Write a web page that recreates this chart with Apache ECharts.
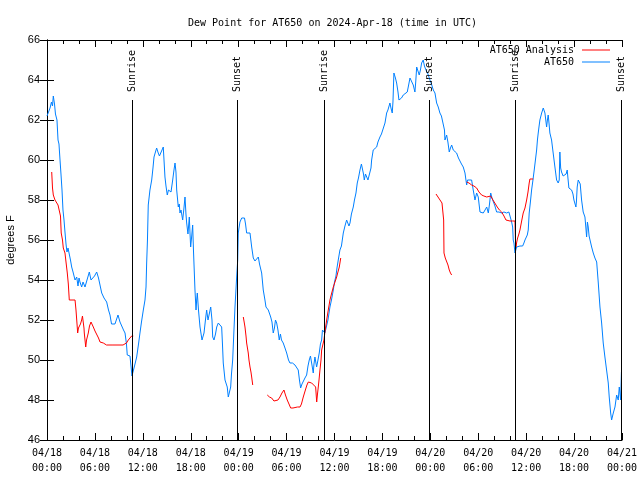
<!DOCTYPE html>
<html><head><meta charset="utf-8">
<script src="https://cdn.jsdelivr.net/npm/echarts@6/dist/echarts.min.js"></script>
<style>html,body{margin:0;padding:0;background:#fff}#c{width:640px;height:480px}</style>
</head><body><div id="c"></div>
<script>
// hours since 2024-04-18 00:00 UTC
const blueHours = [0.00,0.19,0.38,0.56,0.69,0.79,0.94,1.06,1.25,1.38,1.50,1.63,1.75,1.88,2.00,2.13,2.25,2.38,2.50,2.63,2.79,2.94,3.09,3.26,3.51,3.72,3.88,4.01,4.13,4.34,4.51,4.76,5.01,5.30,5.51,5.72,5.95,6.22,6.45,6.64,6.85,7.14,7.47,7.70,7.89,8.08,8.26,8.51,8.89,9.14,9.35,9.58,9.77,9.95,10.05,10.39,10.52,10.64,10.83,11.02,11.23,11.46,11.64,11.83,12.06,12.27,12.40,12.48,12.58,12.68,12.89,13.11,13.21,13.27,13.40,13.58,13.73,13.93,14.08,14.23,14.40,14.56,14.77,14.90,15.06,15.21,15.40,15.53,15.74,15.90,16.03,16.15,16.24,16.44,16.56,16.65,16.78,16.99,17.15,17.28,17.40,17.49,17.65,17.82,17.90,17.99,18.12,18.24,18.34,18.53,18.66,18.74,18.82,18.97,19.16,19.41,19.53,19.66,19.84,19.99,20.16,20.32,20.50,20.66,20.75,20.91,21.10,21.25,21.45,21.66,21.87,21.97,22.07,22.29,22.47,22.57,22.70,22.91,23.00,23.10,23.25,23.41,23.54,23.66,23.75,23.88,23.95,24.04,24.16,24.38,24.58,24.73,24.86,25.00,25.17,25.42,25.63,25.83,26.04,26.25,26.46,26.61,26.88,27.08,27.29,27.42,27.71,28.01,28.17,28.33,28.48,28.61,28.76,28.92,29.08,29.23,29.36,29.58,29.80,30.01,30.24,30.42,30.74,31.05,31.24,31.46,31.61,31.76,31.93,32.09,32.30,32.51,32.68,32.84,32.99,33.14,33.24,33.34,33.43,33.55,33.76,33.93,34.09,34.24,34.39,34.49,34.59,34.68,34.80,35.02,35.18,35.43,35.62,35.85,36.00,36.18,36.31,36.47,36.68,36.87,37.10,37.31,37.52,37.69,37.81,37.94,38.12,38.35,38.50,38.69,38.85,39.00,39.19,39.37,39.53,39.63,39.73,39.88,40.03,40.19,40.44,40.57,40.65,40.85,41.07,41.28,41.44,41.69,41.88,42.10,42.32,42.53,42.69,42.94,43.07,43.23,43.32,43.44,43.63,43.78,43.95,44.07,44.20,44.39,44.61,44.82,45.11,45.26,45.45,45.64,45.86,46.07,46.17,46.29,46.45,46.61,46.76,46.91,47.11,47.26,47.45,47.70,47.95,48.14,48.37,48.58,48.79,48.99,49.20,49.39,49.62,49.77,49.83,50.04,50.20,50.37,50.52,50.67,50.87,51.08,51.29,51.52,51.71,51.90,52.12,52.34,52.46,52.55,52.65,52.87,53.17,53.37,53.59,53.80,54.00,54.13,54.22,54.63,54.85,55.06,55.26,55.41,55.56,55.72,55.88,56.09,56.30,56.59,56.93,57.22,57.55,57.84,58.09,58.18,58.31,58.38,58.47,58.60,58.81,59.04,59.22,59.56,59.72,59.85,60.14,60.26,60.38,60.53,60.68,60.85,61.01,61.16,61.31,61.41,61.51,61.62,61.72,61.94,62.14,62.35,62.56,62.66,62.76,62.87,62.97,63.18,63.38,63.60,63.81,64.01,64.14,64.22,64.32,64.43,64.63,64.85,65.00,65.14,65.23,65.35,65.54,65.69,65.86,65.98,66.23,66.29,66.39,66.52,66.64,66.77,66.94,67.14,67.36,67.48,67.57,67.67,67.77,67.88,67.98,68.20,68.40,68.61,68.83,69.03,69.24,69.45,69.65,69.86,70.07,70.28,70.40,70.58,70.70,70.91,71.12,71.33,71.53,71.66,71.83,71.93];
const blueValues = [62.2,62.3,62.6,62.9,62.7,63.2,62.8,62.3,62.0,61.0,60.8,60.0,59.3,58.5,57.5,57.0,56.4,55.8,55.4,55.6,55.5,55.0,54.65,54.4,54.0,54.15,53.7,54.1,53.9,53.65,53.9,53.65,54.0,54.4,54.0,53.9,54.2,54.4,54.1,54.1,53.35,53.1,52.9,52.5,52.25,51.8,51.9,51.8,52.25,51.9,51.85,51.5,51.35,50.8,50.25,50.2,49.7,49.2,49.5,49.8,50.15,50.8,51.35,51.9,52.5,53.0,53.65,54.85,56.0,57.75,58.5,59.0,58.9,59.6,60.15,60.4,60.6,60.35,60.2,60.15,60.5,60.65,59.15,58.7,58.25,58.5,58.5,58.4,59.0,59.5,59.85,59.4,58.5,57.65,57.8,57.35,57.5,57.0,57.6,58.15,57.3,56.85,56.3,57.15,56.4,55.65,56.2,56.75,55.5,53.5,52.5,53.0,53.35,52.5,51.65,51.0,51.0,51.35,52.0,52.5,52.0,52.0,52.65,52.0,51.15,51.0,51.3,51.65,51.85,51.85,51.65,50.8,49.85,49.0,49.0,48.65,48.15,48.15,48.65,49.3,50.0,51.5,52.65,53.5,54.15,55.0,56.35,56.6,56.9,57.1,57.0,57.1,56.8,56.35,56.4,56.35,55.65,55.1,54.95,54.85,55.15,54.8,54.35,53.5,53.0,52.65,52.5,52.15,51.9,51.35,51.6,52.0,51.85,51.5,51.0,51.3,51.0,50.85,50.6,50.35,50.0,49.85,49.85,49.75,49.7,49.5,49.0,48.6,48.8,48.9,49.1,49.25,49.7,50.0,50.2,50.25,49.6,49.35,49.8,50.15,49.65,50.0,50.35,50.8,51.0,51.5,51.5,51.5,51.35,51.35,52.0,52.65,53.0,53.5,53.9,54.2,54.6,55.0,55.5,55.7,56.35,56.7,57.0,57.0,56.7,56.85,57.3,57.65,58.0,58.35,58.85,59.1,59.5,59.8,59.9,59.3,59.0,59.3,59.25,59.0,59.0,59.6,60.0,60.5,60.6,60.65,60.9,61.15,61.3,61.4,61.85,62.35,62.5,62.85,62.6,62.35,62.9,64.35,64.1,63.85,63.4,63.0,62.9,63.1,63.25,63.3,63.4,63.7,64.1,64.0,63.75,63.4,63.9,64.65,64.6,64.25,64.5,64.85,65.0,64.7,64.5,64.3,64.0,63.8,63.5,63.35,62.85,62.65,62.35,62.2,62.15,61.5,61.0,61.25,60.9,60.4,60.6,60.75,60.5,60.4,60.35,60.1,60.0,59.8,59.65,59.35,59.0,58.75,59.0,59.0,59.0,58.5,58.0,58.35,58.15,57.7,57.4,57.35,57.5,57.65,57.35,57.8,58.35,58.1,58.0,57.7,57.4,57.4,57.35,57.4,57.35,57.4,57.4,56.9,56.65,56.0,55.85,55.35,55.65,55.7,55.7,55.7,55.85,56.0,56.25,56.5,57.35,57.9,58.5,59.0,59.5,60.0,60.5,61.0,61.35,61.7,62.0,62.35,62.6,62.35,61.65,62.0,62.25,61.8,61.35,61.0,60.35,59.65,59.0,58.85,59.0,60.4,59.6,59.4,59.2,59.15,59.3,59.5,59.1,58.6,58.5,58.5,58.3,58.0,57.65,57.9,58.65,59.0,59.1,58.8,58.0,57.4,57.15,56.6,56.15,56.9,56.65,56.2,56.15,55.65,55.35,55.1,54.9,53.85,52.65,51.85,50.85,50.15,49.5,48.85,48.15,47.35,47.0,47.35,47.65,48.25,48.0,48.65,48.0,49.4];
// null = gap in the analysis record
const redHours = [0.59,0.69,0.79,1.00,1.21,1.38,1.54,1.69,1.78,1.94,2.04,2.25,2.38,2.54,2.67,2.79,3.13,3.51,3.63,3.76,3.84,3.94,4.04,4.19,4.34,4.44,4.54,4.63,4.67,4.85,4.95,5.17,5.32,5.51,5.63,5.80,6.01,6.22,6.45,6.64,6.82,7.05,7.26,7.45,7.68,7.89,8.26,8.64,9.14,9.52,9.77,9.95,10.18,10.39,10.60,10.80,null,24.58,24.73,24.79,24.92,25.00,25.10,25.20,25.29,25.42,25.54,25.63,25.76,null,27.58,27.86,28.13,28.42,28.67,28.92,29.17,29.42,29.67,29.86,30.08,30.30,30.51,30.80,31.05,31.36,31.68,31.86,32.09,32.24,32.43,32.55,32.72,32.93,33.14,33.37,33.64,33.77,33.87,33.97,34.06,34.18,34.31,34.39,34.56,34.68,34.80,35.02,35.18,35.43,35.62,35.85,36.06,36.27,36.43,36.60,36.78,null,48.71,48.96,49.21,49.46,49.62,49.67,49.71,49.87,50.04,50.21,50.37,50.52,50.67,null,52.55,52.84,53.17,53.46,53.80,54.09,54.42,54.71,55.06,55.28,55.56,55.84,56.09,56.38,56.65,56.93,57.22,57.47,57.72,57.97,58.28,58.60,58.66,58.72,58.82,58.93,59.09,59.22,59.41,59.63,59.85,60.06,60.23,60.38,60.47,60.88];
const redValues = [59.4,58.6,58.25,58.0,57.9,57.75,57.65,57.2,56.35,56.0,55.6,55.35,54.9,54.35,53.8,53.0,53.0,53.0,52.5,51.8,51.35,51.6,51.5,51.8,52.0,52.2,52.25,51.6,51.35,50.65,51.0,51.35,51.7,51.9,51.8,51.65,51.45,51.35,51.1,50.9,50.85,50.85,50.8,50.75,50.7,50.75,50.75,50.75,50.75,50.75,50.75,50.85,51.0,51.1,51.2,51.2,null,52.15,51.8,51.65,51.2,50.85,50.6,50.35,50.0,49.65,49.4,49.15,48.75,null,48.25,48.15,48.1,47.95,47.85,48.0,48.15,48.35,48.5,48.25,48.0,47.8,47.6,47.6,47.6,47.65,47.65,47.8,48.15,48.35,48.6,48.75,48.9,48.9,48.85,48.75,48.65,47.9,48.3,48.65,49.0,49.5,50.0,50.5,50.8,51.0,51.4,52.0,52.4,53.0,53.3,53.65,53.9,54.15,54.4,54.65,55.1,null,58.3,58.15,58.0,57.85,57.75,57.0,55.35,55.1,55.0,54.75,54.5,54.35,54.25,null,58.9,58.85,58.75,58.7,58.6,58.4,58.25,58.2,58.15,58.15,58.2,58.0,57.9,57.65,57.5,57.4,57.2,57.0,56.95,56.95,56.95,56.95,56.0,55.65,55.9,56.1,56.3,56.5,56.9,57.35,57.6,58.0,58.4,58.85,59.05,59.05];
const sunHours = [10.64,23.85,34.68,47.89,58.66,71.93];
const sunLabels = ['Sunrise','Sunset','Sunrise','Sunset','Sunrise','Sunset'];
const yTicks = [46,48,50,52,54,56,58,60,62,64,66];
const seriesNames = ['AT650 Analysis','AT650'];
const titleText = 'Dew Point for AT650 on 2024-Apr-18 (time in UTC)';

const mono = 'DejaVu Sans Mono';
function pad(n){return (n<10?'0':'')+n;}
function fmtX(h){const d=18+Math.floor(h/24+1e-9);const hr=Math.round(h-(d-18)*24);return '04/'+pad(d)+'\n'+pad(hr)+':00';}
function pairs(xs,ys){return xs.map((x,i)=>(x===null||ys[i]===null)?['-','-']:[x,ys[i]]);}

const sunLines=[];
sunHours.forEach((h,i)=>{
  sunLines.push([{coord:[h,yTicks[0]],label:{show:false}},{coord:[h,63]}]);
  sunLines.push([{coord:[h,63.4],lineStyle:{color:'rgba(0,0,0,0)',width:0},
    label:{show:true,formatter:sunLabels[i],position:'insideStart',distance:0,fontFamily:mono,fontSize:10,color:'#000'}},
    {coord:[h,65.8]}]);
});

const xBase={type:'value',min:0,max:72,interval:6,
  axisLine:{lineStyle:{color:'#000',width:1}},
  axisTick:{inside:true,length:7,lineStyle:{color:'#000'}},
  minorTick:{show:true,splitNumber:3,length:4,lineStyle:{color:'#000'}},
  splitLine:{show:false}};
const yBase={type:'value',min:yTicks[0],max:yTicks[yTicks.length-1],interval:2,
  axisLine:{show:true,lineStyle:{color:'#000',width:1}},
  axisTick:{show:true,inside:true,length:7,lineStyle:{color:'#000'}},
  splitLine:{show:false}};

const lineIcon='path://M0,0H28V1H0Z';
const chart=echarts.init(document.getElementById('c'),null,{renderer:'canvas'});
chart.setOption({
  animation:false,
  backgroundColor:'#fff',
  title:{text:titleText,left:183,top:13,textStyle:{fontFamily:mono,fontSize:10,fontWeight:'normal',color:'#000'}},
  legend:{orient:'vertical',right:30,top:45,align:'right',itemWidth:28,itemHeight:12,itemGap:2,padding:0,
    data:[{name:seriesNames[0],icon:lineIcon},{name:seriesNames[1],icon:lineIcon}],
    textStyle:{fontFamily:mono,fontSize:10,color:'#000',padding:[0,3,0,0]}},
  grid:{left:47,right:18,top:40,bottom:40,containLabel:false,outerBoundsMode:'none'},
  xAxis:[
    Object.assign({},xBase,{position:'bottom',axisLabel:{formatter:fmtX,fontFamily:mono,fontSize:10,color:'#000',lineHeight:15,margin:6}}),
    Object.assign({},xBase,{position:'top',axisLabel:{show:false}})
  ],
  yAxis:[
    Object.assign({},yBase,{position:'left',name:'degrees F',nameLocation:'middle',nameRotate:90,nameGap:31,
      nameTextStyle:{fontFamily:'Liberation Sans',fontSize:11,color:'#000'},
      axisLabel:{fontFamily:'Liberation Sans',fontSize:11,color:'#000',margin:7}}),
    Object.assign({},yBase,{position:'right',axisLabel:{show:false}})
  ],
  series:[
    {name:seriesNames[0],type:'line',data:pairs(redHours,redValues),showSymbol:false,symbol:'none',connectNulls:false,
      lineStyle:{color:'#ff0000',width:1},itemStyle:{color:'#ff0000'},z:3},
    {name:seriesNames[1],type:'line',data:pairs(blueHours,blueValues),showSymbol:false,symbol:'none',
      lineStyle:{color:'#0080ff',width:1},itemStyle:{color:'#0080ff'},z:2,
      markLine:{silent:true,symbol:['none','none'],animation:false,
        lineStyle:{color:'#000',width:1,type:'solid'},
        data:sunLines}}
  ]
});
</script></body></html>
